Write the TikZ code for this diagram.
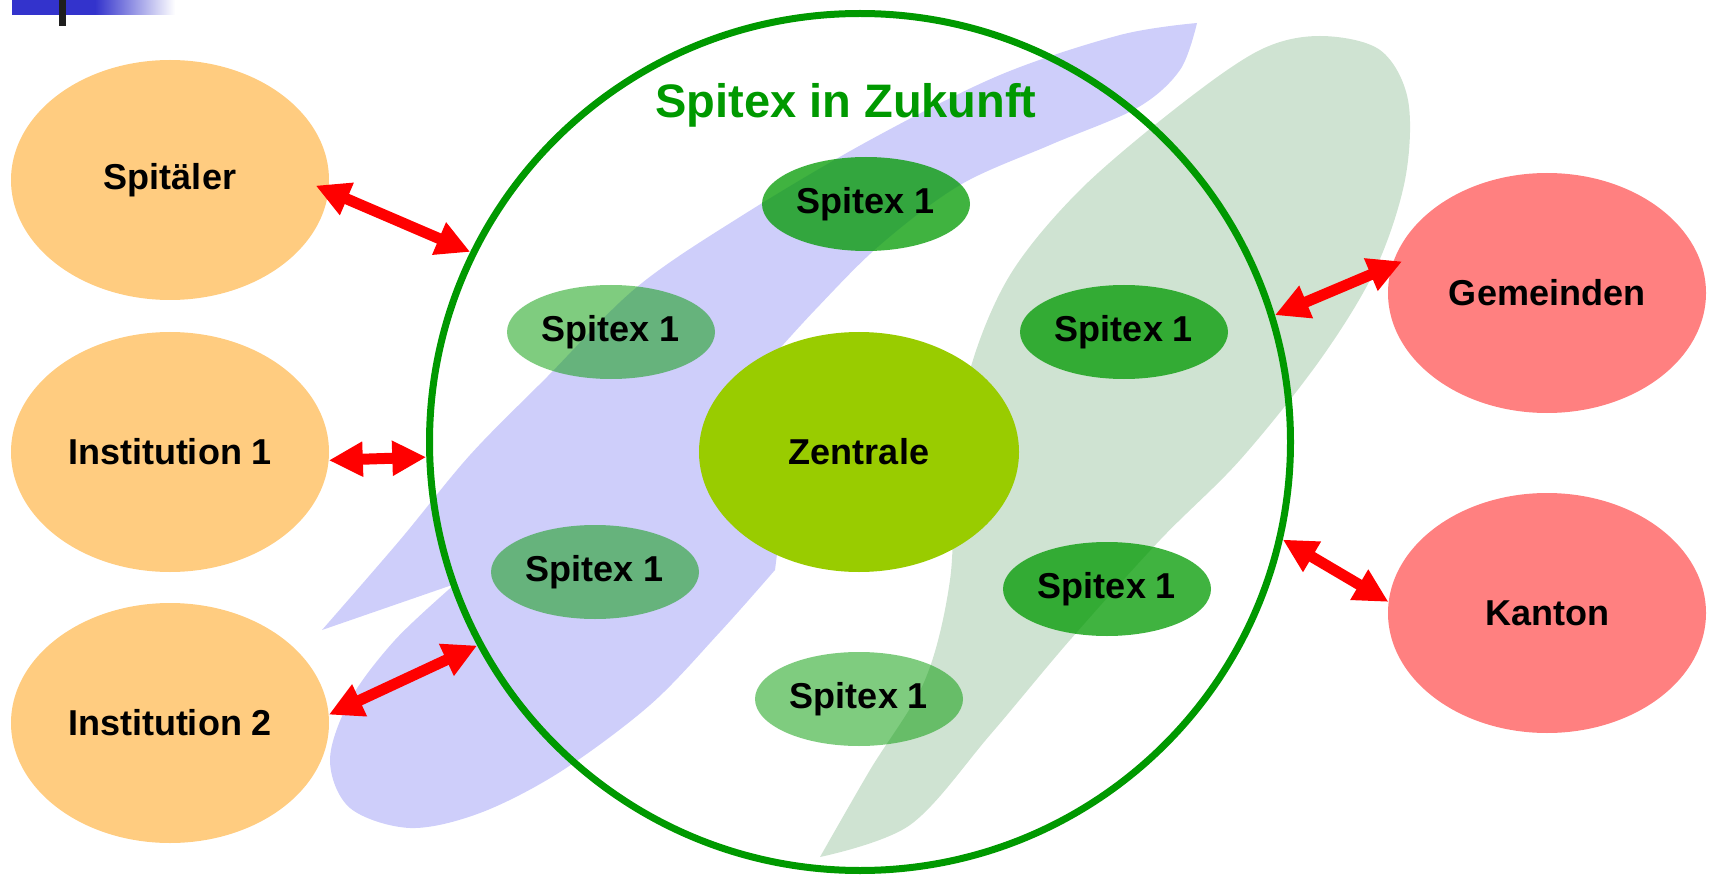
\documentclass[tikz,border=0pt]{standalone}
\usepackage{fontspec}
\setmainfont{Liberation Sans}
\usetikzlibrary{shapes.geometric,arrows.meta}
\definecolor{ringgreen}{RGB}{0,153,0}
\definecolor{orangefill}{RGB}{255,204,128}
\definecolor{rosefill}{RGB}{255,128,128}
\definecolor{centrefill}{RGB}{153,204,0}
\definecolor{bluewash}{RGB}{206,206,250}
\definecolor{greenwash}{RGB}{207,227,210}
\definecolor{barblue}{RGB}{51,51,204}
\begin{document}
\begin{tikzpicture}[x=1pt,y=-1pt,
  every node/.style={font=\fontsize{36}{40}\selectfont\bfseries},
  blob/.style={ellipse,inner sep=0pt,minimum width=208pt,minimum height=94pt,fill=ringgreen,text opacity=1},
  outer/.style={ellipse,inner sep=0pt,minimum width=318pt,minimum height=240pt},
  link/.style={red,line width=11pt,{Triangle[length=34pt,width=33pt]}-{Triangle[length=34pt,width=33pt]}}]
\useasboundingbox (0,0) rectangle (1711,877);

% corner mark
\fill[barblue] (12,0) rectangle (96,15);
\shade[left color=barblue,right color=white] (95,0) rectangle (175,15);
\fill[black!88] (59,0) rectangle (66,26);

% background washes
\fill[bluewash] (1197,23) -- plot[smooth,tension=0.55] coordinates {(1197,23) (1120,35) (1000,75) (870,140) (743,215) (637,287) (547,377) (470,455) (400,540) (322,630)}
  -- (455,584)
  -- plot[smooth,tension=0.55] coordinates {(455,584) (395,640) (350,700) (330,760) (350,808) (410,828) (480,813) (560,772) (650,705) (720,632) (775,570)}
  -- (790,450) -- (765,365)
  -- plot[smooth,tension=0.55] coordinates {(765,365) (815,310) (880,245) (960,185) (1050,145) (1137,108) (1180,70) (1197,23)} -- cycle;
\fill[greenwash] (820,857) -- plot[smooth,tension=0.55] coordinates {(820,857) (870,770) (925,680) (950,580) (955,470) (970,370) (1010,275) (1080,190) (1180,105) (1260,50) (1320,36) (1380,50) (1408,100) (1405,180) (1375,270) (1320,360) (1240,460) (1160,540) (1070,640) (990,735) (910,825) (820,857)} -- cycle;

% Spitex units
\node[blob,fill opacity=0.75] (sTop) at (866,204) {Spitex 1};
\node[blob,fill opacity=0.5] (sUL) at (611,332) {Spitex 1};
\node[blob,fill opacity=0.75] (sUR) at (1124,332) {Spitex 1};
\node[blob,fill opacity=0.5] (sLL) at (595,572) {Spitex 1};
\node[blob,fill opacity=0.75] (sLR) at (1107,589) {Spitex 1};
\node[blob,fill opacity=0.5] (sBot) at (859,699) {Spitex 1};
\node[ellipse,inner sep=0pt,fill=centrefill,minimum width=320pt,minimum height=240pt] (zentrale) at (859,452) {Zentrale};

\node[ellipse,draw=ringgreen,line width=7pt,minimum width=861pt,minimum height=857pt] (zukunft) at (860,442) {};
\node[anchor=base,text=ringgreen,font=\fontsize{47}{52}\selectfont\bfseries] (titel) at (846,118) {Spitex in Zukunft};

% partners
\node[outer,fill=orangefill] (spital) at (170,180) {Spit\"aler};
\node[outer,fill=orangefill] (inst1) at (170,452) {Institution 1};
\node[outer,fill=orangefill] (inst2) at (170,723) {Institution 2};
\node[outer,fill=rosefill] (gemeinden) at (1547,293) {Gemeinden};
\node[outer,fill=rosefill] (kanton) at (1547,613) {Kanton};

\draw[link,shorten <=-14pt] (spital.-4) -- (zukunft.154.6);
\draw[link] (inst1.-3) -- (zukunft.182.4);
\draw[link] (inst2.3) -- (zukunft.208.6);
\draw[link,shorten <=-11pt] (gemeinden.170) -- (zukunft.17);
\draw[link] (kanton.176.4) -- (zukunft.-13.3);
\end{tikzpicture}
\end{document}
